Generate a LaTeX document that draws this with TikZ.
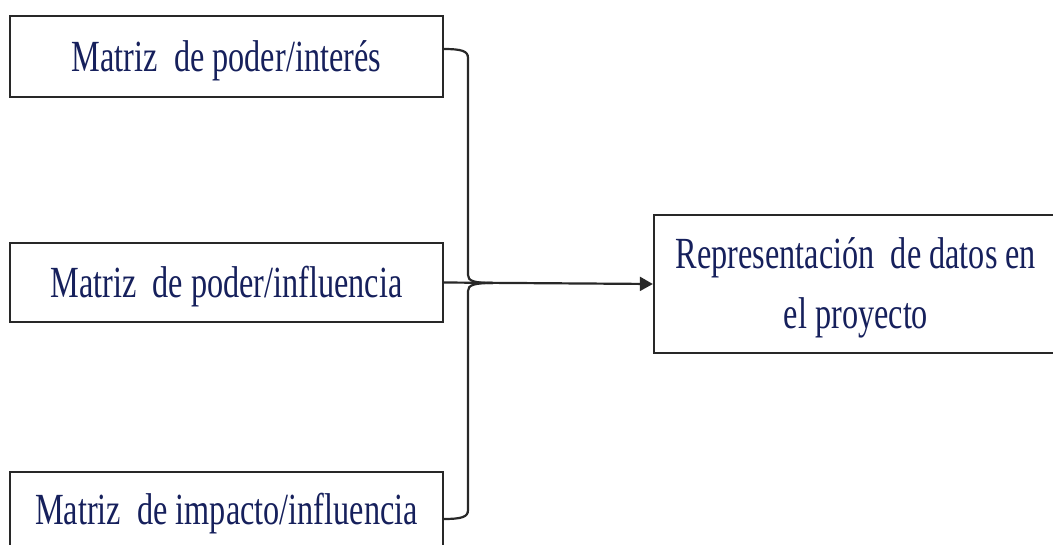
\documentclass[tikz,border=0pt]{standalone}
\usepackage{fontspec}
\setmainfont{Liberation Serif}
\newfontfamily\boxfont[FakeStretch=0.725]{Liberation Serif}
\usetikzlibrary{arrows.meta}
\definecolor{inkblue}{RGB}{22,32,92}
\definecolor{framegray}{RGB}{40,40,40}
\tikzset{
  srcbox/.style={draw=framegray, line width=2.3pt, minimum width=433pt,
    inner sep=0pt, text=inkblue, font=\boxfont\fontsize{44.5}{60}\selectfont,
    text height=30pt, text depth=0pt},
  dstbox/.style={draw=framegray, line width=2.3pt, minimum width=404pt,
    minimum height=138pt, inner sep=0pt, text=inkblue, align=center,
    font=\boxfont\fontsize{44.5}{60}\selectfont, text height=88pt, text depth=0pt},
  bracket/.style={draw=framegray, line width=2.2pt},
  link/.style={draw=framegray, line width=2.2pt, -{Triangle[length=13pt,width=14pt]}}
}
\begin{document}
\begin{tikzpicture}[x=1pt, y=-1pt]
  \useasboundingbox (0,0) rectangle (1053,544);
  % three source matrices
  \node[srcbox, minimum height=81pt] (pi) at (226.5,56.5) {Matriz\ \ de poder/interés};
  \node[srcbox, minimum height=79pt] (pf) at (226.5,282.5) {Matriz\ \ de poder/influencia};
  \node[srcbox, minimum height=74pt] (im) at (226.5,509) {Matriz\ \ de impacto/influencia};
  % target box
  \node[dstbox] (rep) at (856,284) {Representación\ \ de datos en\\el proyecto};
  % right brace gathering the three matrices
  \coordinate (bt) at (443,49);
  \coordinate (bb) at (443,519);
  \coordinate (tip) at (493,283);
  \draw[bracket] (bt) .. controls (462,49) and (468,51) .. (468,58)
    -- (468,275) .. controls (468,281) and (474,283) .. (tip);
  \draw[bracket] (bb) .. controls (462,519) and (468,517) .. (468,510)
    -- (468,291) .. controls (468,285) and (474,283) .. (tip);
  % arrow to the target
  \draw[link] (pf.east) -- (rep.west);
\end{tikzpicture}
\end{document}
